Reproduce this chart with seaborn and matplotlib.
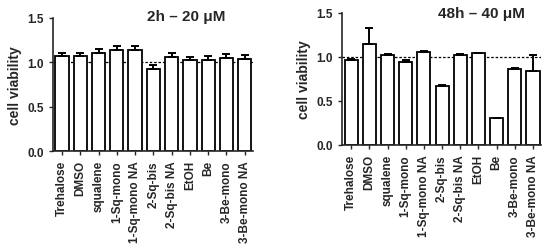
#!/usr/bin/env python3
"""Cell viability bar charts: 2h at 20 uM and 48h at 40 uM."""

import matplotlib
matplotlib.use("Agg")
import matplotlib.pyplot as plt
import pandas as pd
import seaborn as sns

SAMPLES = [
    "Trehalose", "DMSO", "squalene", "1-Sq-mono", "1-Sq-mono NA", "2-Sq-bis",
    "2-Sq-bis NA", "EtOH", "Be", "3-Be-mono", "3-Be-mono NA",
]
VIAB_2H = [1.07, 1.07, 1.10, 1.14, 1.14, 0.925, 1.06, 1.03, 1.03, 1.05, 1.04]
ERR_2H = [0.04, 0.04, 0.045, 0.04, 0.045, 0.045, 0.045, 0.035, 0.04, 0.04, 0.045]
VIAB_48H = [0.966, 1.15, 1.02, 0.943, 1.06, 0.67, 1.02, 1.04, 0.307, 0.864, 0.845]
ERR_48H = [0.01, 0.18, 0.01, 0.018, 0.012, 0.012, 0.015, 0.01, 0.003, 0.005, 0.18]
TITLES = ["2h – 20 μM", "48h – 40 μM"]

sns.set_style("ticks")
plt.rcParams["font.family"] = ["Liberation Sans", "DejaVu Sans"]
plt.rcParams["font.weight"] = "bold"

fig = plt.figure(figsize=(5.5, 2.53), dpi=100)
ax_l = fig.add_axes([0.096, 0.399, 0.364, 0.526])
ax_r = fig.add_axes([0.622, 0.423, 0.362, 0.522])

panels = [
    (ax_l, VIAB_2H, ERR_2H, TITLES[0], 0.47, 1.07),
    (ax_r, VIAB_48H, ERR_48H, TITLES[1], 0.48, 1.05),
]

for ax, vals, errs, title, tx, ty in panels:
    df = pd.DataFrame({"sample": SAMPLES, "viability": vals, "err": errs})
    ax.axhline(1.0, color="black", ls=(0, (2, 1.5)), lw=0.9, zorder=1)
    sns.barplot(
        data=df, x="sample", y="viability", order=SAMPLES,
        color="white", edgecolor="black", linewidth=1.3,
        width=0.72, errorbar=None, ax=ax, zorder=2,
    )
    ax.errorbar(
        range(len(SAMPLES)), df["viability"],
        yerr=[[0] * len(SAMPLES), df["err"]],
        fmt="none", ecolor="black", elinewidth=1.4, capsize=3, capthick=1.4, zorder=3,
    )
    ax.set_xlim(-0.5, 10.45)
    ax.set_ylim(0, 1.5)
    ax.set_yticks([0.0, 0.5, 1.0, 1.5])
    ax.set_yticklabels(["0.0", "0.5", "1.0", "1.5"])
    ax.tick_params(axis="x", rotation=90, labelsize=8.5, length=3, width=1)
    ax.tick_params(axis="y", labelsize=8.5, length=3, width=1)
    for lab in ax.get_xticklabels() + ax.get_yticklabels():
        lab.set_fontweight("bold")
    ax.set_xlabel("")
    ax.set_ylabel("cell viability", fontsize=10, fontweight="bold")
    ax.text(tx, ty, title, transform=ax.transAxes, ha="left", va="top",
            fontsize=11, fontweight="bold")
    for side in ["left", "bottom"]:
        ax.spines[side].set_linewidth(1.2)
    sns.despine(ax=ax)

fig.savefig("out.png", dpi=100)
